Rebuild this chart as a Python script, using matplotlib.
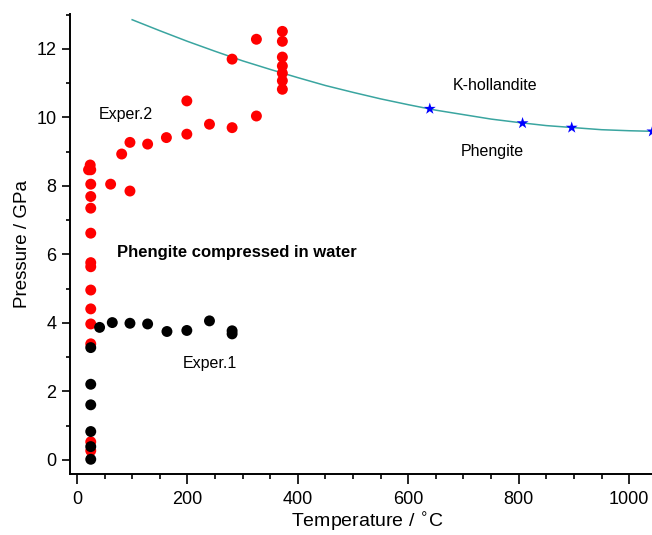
import numpy as np
import matplotlib.pyplot as plt

plt.rcParams['font.family'] = ['Liberation Sans', 'DejaVu Sans']

# Exper.2 (red)
exp2_T = [24, 21, 25, 25, 25, 25, 25, 25, 25, 25, 25, 25, 25, 25, 25,
          61, 96, 81, 96, 128, 162, 199, 199, 240, 281, 325, 281, 325,
          372, 372, 372, 372, 372, 372, 372]
exp2_P = [8.61, 8.47, 8.47, 8.05, 7.69, 7.35, 6.62, 5.76, 5.64, 4.96, 4.41, 3.97, 3.39, 0.53, 0.27,
          8.05, 7.85, 8.93, 9.27, 9.22, 9.41, 9.51, 10.48, 9.80, 9.70, 10.04, 11.70, 12.28,
          12.51, 12.22, 11.76, 11.50, 11.29, 11.07, 10.82]

# Exper.1 (black)
exp1_T = [25, 25, 25, 25, 25, 25, 41, 64, 96, 128, 163, 199, 240, 281, 281]
exp1_P = [0.02, 0.39, 0.83, 1.61, 2.21, 3.28, 3.87, 4.01, 3.99, 3.97, 3.75, 3.78, 4.06, 3.77, 3.68]

# phengite / K-hollandite boundary (blue stars)
star_T = [639, 807, 896, 1042]
star_P = [10.25, 9.83, 9.70, 9.59]

# boundary curve
line_T = [100, 150, 200, 250, 300, 350, 400, 450, 500, 550, 600, 650, 700,
          750, 800, 850, 900, 950, 1000, 1050]
line_P = [12.85, 12.53, 12.22, 11.93, 11.65, 11.40, 11.16, 10.93, 10.73, 10.54, 10.37,
          10.21, 10.08, 9.95, 9.85, 9.76, 9.70, 9.64, 9.61, 9.59]

fig = plt.figure(figsize=(6.52, 5.35), dpi=100)
ax = fig.add_axes([0.107, 0.114, 0.893 + 0.02, 0.86])

ax.plot(line_T, line_P, color="#3aa5a0", lw=1.1, zorder=1)
ax.scatter(exp2_T, exp2_P, s=62, color="#ff0000", zorder=2, edgecolors="none")
ax.scatter(exp1_T, exp1_P, s=62, color="black", zorder=3, edgecolors="none")
ax.scatter(star_T, star_P, s=80, marker="*", color="#0000ff", zorder=4, edgecolors="none")

ax.text(40, 10.07, "Exper.2", fontsize=11.5, va="center")
ax.text(73, 6.07, "Phengite compressed in water", fontsize=12, fontweight="bold", va="center")
ax.text(192, 2.83, "Exper.1", fontsize=11.5, va="center")
ax.text(681, 10.92, "K-hollandite", fontsize=11.5, va="center")
ax.text(695, 9.0, "Phengite", fontsize=11.5, va="center")

ax.set_xlim(-13, 1065)
ax.set_ylim(-0.41, 13.02)
ax.set_xticks([0, 200, 400, 600, 800, 1000])
ax.set_xticks(np.arange(0, 1051, 50), minor=True)
ax.set_yticks([0, 2, 4, 6, 8, 10, 12])
ax.set_yticks(np.arange(1, 13.5, 2), minor=True)
ax.tick_params(which="major", direction="out", length=6, width=1.2, labelsize=13)
ax.tick_params(which="minor", direction="out", length=3, width=1.2)
ax.tick_params(axis="x", which="major", length=7, pad=5)
ax.tick_params(axis="x", which="minor", length=3.6)

for s in ["top", "right"]:
    ax.spines[s].set_visible(False)
for s in ["left", "bottom"]:
    ax.spines[s].set_linewidth(1.4)

ax.set_xlabel(r"Temperature / $^{\circ}$C", fontsize=14, labelpad=2)
ax.set_ylabel("Pressure / GPa", fontsize=13.5, labelpad=4)

fig.savefig("out.png", dpi=100)
